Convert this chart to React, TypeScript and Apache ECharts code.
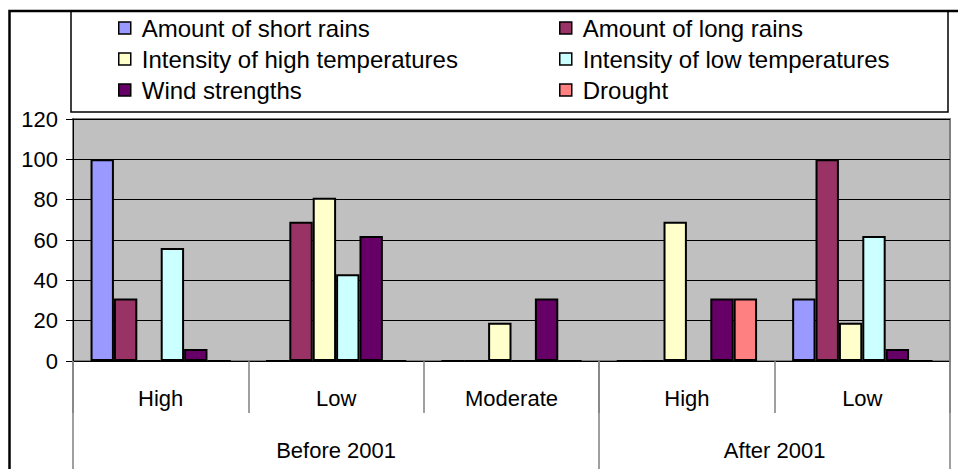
import React, { useEffect, useRef } from "react";
import * as echarts from "echarts";

const categories = ["High", "Low", "Moderate", "High", "Low"];
const groupLabels = ["Before 2001", "After 2001"];
const groupCenters = [1.5, 4];
const groupEdges = [0, 3, 5];
const seriesNames = [
  "Amount of short rains",
  "Amount of long rains",
  "Intensity of high temperatures",
  "Intensity of low temperatures",
  "Wind strengths",
  "Drought",
];
const shortRains = [100, 0, 0, 0, 31];
const longRains = [31, 69, 0, 0, 100];
const highTemp = [0, 81, 19, 69, 19];
const lowTemp = [56, 43, 0, 0, 62];
const windStrength = [6, 62, 31, 31, 6];
const drought = [0, 0, 0, 31, 0];
const yTicks = [0, 20, 40, 60, 80, 100, 120];

const seriesValues = [shortRains, longRains, highTemp, lowTemp, windStrength, drought];
const colors = ["#9999FF", "#993366", "#FFFFCC", "#CCFFFF", "#660066", "#FF8080"];
const FONT = "'Liberation Sans', Arial, sans-serif";

export default function App() {
  const ref = useRef<HTMLDivElement>(null);
  useEffect(() => {
    if (!ref.current) return;
    const chart = echarts.init(ref.current, undefined, { renderer: "svg" });
    const legendBase = {
      orient: "vertical",
      top: 16,
      padding: 0,
      itemWidth: 12,
      itemHeight: 12,
      itemGap: 7,
      icon: "rect",
      itemStyle: { borderColor: "#000", borderWidth: 1.5 },
      textStyle: { fontSize: 24, lineHeight: 24, color: "#000", fontFamily: FONT, padding: [0, 0, 0, 6] },
      selectedMode: false,
    };
    chart.setOption({
      animation: false,
      backgroundColor: "#fff",
      textStyle: { fontFamily: FONT },
      graphic: [
        {
          type: "rect",
          shape: { x: 9.5, y: 11, width: 980, height: 500 },
          style: { fill: "none", stroke: "#000", lineWidth: 2.5 },
          z: 100,
        },
        {
          type: "rect",
          shape: { x: 71, y: 11, width: 877, height: 101 },
          style: { fill: "#fff", stroke: "#000", lineWidth: 1.5 },
          z: -1,
        },
      ],
      legend: [
        { ...legendBase, left: 118, data: [seriesNames[0], seriesNames[2], seriesNames[4]] },
        { ...legendBase, left: 559, data: [seriesNames[1], seriesNames[3], seriesNames[5]] },
      ],
      grid: {
        left: 73,
        right: 8,
        top: 119,
        bottom: 108,
        show: true,
        backgroundColor: "#C0C0C0",
        borderColor: "#808080",
        borderWidth: 2,
      },
      xAxis: [
        {
          type: "category",
          data: categories,
          position: "bottom",
          axisLine: { show: true, lineStyle: { color: "#000", width: 1 } },
          axisTick: { show: true, length: 52, lineStyle: { color: "#808080", width: 1.5 } },
          axisLabel: { fontSize: 22, color: "#000", margin: 26, fontFamily: FONT },
          splitLine: { show: false },
        },
        {
          type: "value",
          min: 0,
          max: 5,
          interval: 0.5,
          position: "bottom",
          axisLine: { show: false },
          axisTick: {
            show: true,
            length: 110,
            customValues: groupEdges,
            lineStyle: { color: "#808080", width: 1.5 },
          },
          axisLabel: {
            fontSize: 22,
            color: "#000",
            margin: 78,
            fontFamily: FONT,
            customValues: groupCenters,
            formatter: (v: number) => {
              const i = groupCenters.indexOf(v);
              return i >= 0 ? groupLabels[i] : "";
            },
          },
          splitLine: { show: false },
        },
      ],
      yAxis: {
        type: "value",
        min: yTicks[0],
        max: yTicks[yTicks.length - 1],
        interval: 20,
        axisLine: { show: true, lineStyle: { color: "#000", width: 1 } },
        axisTick: { show: true, length: 7, lineStyle: { color: "#000" } },
        axisLabel: { fontSize: 22, color: "#000", margin: 15, fontFamily: FONT },
        splitLine: { show: true, lineStyle: { color: "#000", width: 1 } },
      },
      series: seriesNames.map((name, i) => ({
        name,
        type: "bar",
        xAxisIndex: 0,
        data: seriesValues[i],
        barGap: "0%",
        barCategoryGap: "20%",
        itemStyle: { color: colors[i], borderColor: "#000", borderWidth: 2 },
      })),
    });
    return () => chart.dispose();
  }, []);
  return (
    <div
      ref={ref}
      style={{ position: "absolute", left: 0, top: 0, width: 958, height: 469, background: "#fff" }}
    />
  );
}
